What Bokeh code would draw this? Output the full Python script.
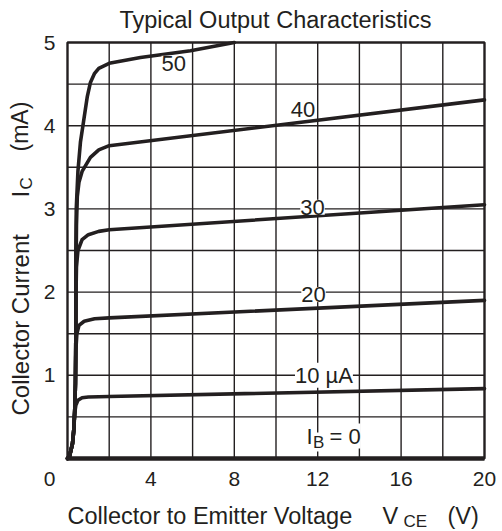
import math
from bokeh.plotting import figure
from bokeh.models import Range1d, Label
from bokeh.core.properties import value
from bokeh.embed import file_html
from bokeh.resources import INLINE

# ---- data (VCE in V, IC in mA) ----
vce_ib0 = [0.0, 20.0]
ic_ib0 = [0.0, 0.0]

vce_10 = [0.0, 0.1, 0.24, 0.3, 0.35, 0.4, 0.5, 0.7, 1.0, 2.0, 20.0]
ic_10 = [0.0, 0.03, 0.18, 0.34, 0.55, 0.64, 0.70, 0.73, 0.74, 0.745, 0.84]

vce_20 = [0.0, 0.1, 0.24, 0.3, 0.35, 0.38, 0.4, 0.45, 0.55, 0.8, 1.3, 2.0, 20.0]
ic_20 = [0.0, 0.03, 0.18, 0.34, 0.6, 0.9, 1.3, 1.5, 1.6, 1.65, 1.68, 1.69, 1.90]

vce_30 = [0.0, 0.1, 0.24, 0.3, 0.35, 0.38, 0.4, 0.41, 0.43, 0.5, 0.7, 1.0, 1.5, 2.0, 20.0]
ic_30 = [0.0, 0.03, 0.18, 0.34, 0.6, 0.9, 1.5, 2.0, 2.3, 2.5, 2.63, 2.69, 2.73, 2.75, 3.05]

vce_40 = [0.0, 0.1, 0.24, 0.3, 0.35, 0.38, 0.4, 0.41, 0.43, 0.47, 0.55, 0.7, 1.1, 1.5, 2.0, 20.0]
ic_40 = [0.0, 0.03, 0.18, 0.34, 0.6, 0.9, 1.5, 2.2, 2.8, 3.15, 3.32, 3.45, 3.62, 3.71, 3.76, 4.31]

vce_50 = [0.0, 0.1, 0.24, 0.3, 0.35, 0.38, 0.4, 0.4, 0.42, 0.5, 0.62, 0.77, 0.95, 1.1, 1.3, 1.5, 2.0, 3.5, 5.9, 8.0]
ic_50 = [0.0, 0.03, 0.18, 0.34, 0.6, 0.9, 1.5, 2.5, 3.0, 3.45, 3.8, 4.05, 4.35, 4.52, 4.63, 4.69, 4.75, 4.82, 4.90, 5.0]

x_ticks = [4, 8, 12, 16, 20]
y_ticks = [1, 2, 3, 4, 5]
x_grid = [2, 4, 6, 8, 10, 12, 14, 16, 18]
y_grid = [0.5, 1, 1.5, 2, 2.5, 3, 3.5, 4, 4.5]
x_lim = (0, 20)
y_lim = (0, 5)
curve_labels = ["50", "40", "30", "20", "10 µA"]

INK = "#231f20"
FONT = "Liberation Sans"

W, H = 502, 531
# plot box in pixels: x 67..484, y 42..458 (from top)
FL, FR, FT, FB = 67, 484, 42, 458
px_per_v = (FR - FL) / (x_lim[1] - x_lim[0])
px_per_ma = (FB - FT) / (y_lim[1] - y_lim[0])
x_range = Range1d(x_lim[0] - FL / px_per_v, x_lim[1] + (W - FR) / px_per_v)
y_range = Range1d(y_lim[0] - (H - FB) / px_per_ma, y_lim[1] + FT / px_per_ma)


def dx(px):
    return x_lim[0] + (px - FL) / px_per_v


def dy(py):
    return y_lim[0] + (FB - py) / px_per_ma


p = figure(width=W, height=H, x_range=x_range, y_range=y_range,
           output_backend="svg", toolbar_location=None,
           x_axis_location=None, y_axis_location=None,
           min_border=0, min_border_left=0, min_border_right=0,
           min_border_top=0, min_border_bottom=0,
           background_fill_color="white", border_fill_color="white")
p.outline_line_color = None
p.grid.visible = False

# grid
p.segment(x0=x_grid, y0=[y_lim[0]] * len(x_grid), x1=x_grid, y1=[y_lim[1]] * len(x_grid),
          line_color=INK, line_width=1.4)
p.segment(x0=[x_lim[0]] * len(y_grid), y0=y_grid, x1=[x_lim[1]] * len(y_grid), y1=y_grid,
          line_color=INK, line_width=1.4)
# plot box
p.quad(left=[x_lim[0]], right=[x_lim[1]], bottom=[y_lim[0]], top=[y_lim[1]],
       fill_color=None, line_color=INK, line_width=2.4)

# curves
for xs, ys in [(vce_10, ic_10), (vce_20, ic_20), (vce_30, ic_30), (vce_40, ic_40), (vce_50, ic_50)]:
    p.line(xs, ys, line_width=3.6, line_color=INK, line_join="round", line_cap="round")
p.line(vce_ib0, ic_ib0, line_width=4.5, line_color=INK)

# tick labels
p.text(x=x_ticks, y=[dy(478.5)] * len(x_ticks), text=[str(t) for t in x_ticks],
       text_font=value(FONT), text_font_size="21px", text_color=INK,
       text_align="center", text_baseline="middle")
p.text(x=[dx(55)] * len(y_ticks), y=y_ticks, text=[str(t) for t in y_ticks],
       text_font=value(FONT), text_font_size="21px", text_color=INK,
       text_align="right", text_baseline="middle")


def lab(text, x, y, size="22px", align="left", baseline="middle", angle=0.0, bg=None):
    kw = dict(x=x, y=y, text=text, text_font=FONT, text_font_size=size, text_color=INK,
              text_align=align, text_baseline=baseline, angle=angle)
    if bg:
        kw.update(background_fill_color=bg)
    l = Label(**kw)
    p.add_layout(l)
    return l

# origin label
lab("0", dx(49), dy(478.5), size="21px", align="center")

# curve labels (centered, white box over grid)
label_pos = [(5.1, 4.75), (11.3, 4.2), (11.75, 3.02), (11.8, 1.97), (12.3, 1.0)]
for t, (lx, ly) in zip(curve_labels, label_pos):
    lab(t, lx, ly, align="center", bg="white")

# I_B = 0
lab("I", dx(306), dy(435.5), bg="white")
lab("B", dx(312.5), dy(441.5), size="17px", bg="white")
lab("= 0", dx(329), dy(435.5), bg="white")

# title
lab("Typical Output Characteristics", dx(275), dy(19.5), size="23.5px", align="center")

# x axis title
lab("Collector to Emitter Voltage", dx(67), dy(515), size="23.5px")
lab("V", dx(382), dy(515), size="23.5px")
lab("CE", dx(403), dy(520.5), size="17px")
lab("(V)", dx(447), dy(515), size="23.5px")

# y axis title (rotated, reads bottom to top)
lab("Collector Current", dx(19.5), dy(415), size="24px", angle=math.pi / 2)
lab("I", dx(19.5), dy(197), size="24px", angle=math.pi / 2)
lab("C", dx(25.5), dy(189), size="17px", angle=math.pi / 2)
lab("(mA)", dx(19.5), dy(151), size="23px", angle=math.pi / 2)

open("out.html", "w").write(file_html(p, INLINE))
